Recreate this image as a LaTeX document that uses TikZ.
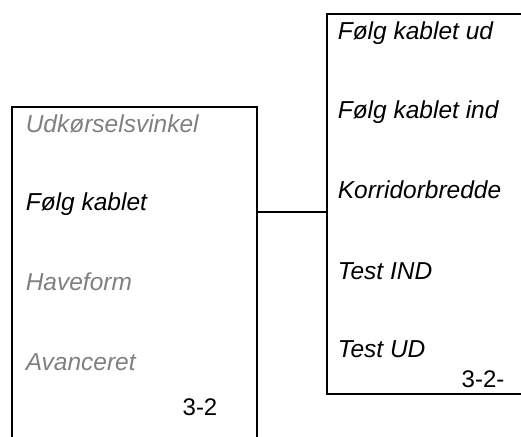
\documentclass[tikz,border=0pt]{standalone}
\usepackage{fontspec}
\setmainfont{Liberation Sans}
\usepackage{tikz}
\usetikzlibrary{positioning}
\tikzset{
  menu/.style={anchor=base west, inner sep=0pt, font=\itshape\fontsize{24.5}{29}\selectfont},
  menudim/.style={menu, text=black!50},
  pagenr/.style={anchor=base, inner sep=0pt, font=\fontsize{24}{29}\selectfont},
}

\begin{document}
\begin{tikzpicture}[x=1pt,y=-1pt,line width=1.6pt]
        \useasboundingbox (0,0) rectangle (521,436);
        % venstre menu
        \coordinate (LA) at (12,440);   \coordinate (LB) at (12,107);
        \coordinate (LC) at (257,107);  \coordinate (LD) at (257,440);
        \draw (LA)--(LB)--(LC)--(LD);
        \node[menudim] (udk) at (25,132) {Udkørselsvinkel};
        \node[menu]    (folg) at (25,210) {Følg kablet};
        \node[menudim] (have) at (25,290) {Haveform};
        \node[menudim] (avan) at (25,370) {Avanceret};
        \node[pagenr]  (nrA) at (200,415) {3-2};

        % hoejre menu
        \coordinate (RA) at (525,14);   \coordinate (RB) at (327,14);
        \coordinate (RC) at (327,394);  \coordinate (RD) at (525,394);
        \draw (RA)--(RB)--(RC)--(RD);
        \node[menu] (ud)   at (337,40)  {Følg kablet ud};
        \node[menu] (ind)  at (337,118) {Følg kablet ind};
        \node[menu] (korr) at (337,198) {Korridorbredde};
        \node[menu] (tind) at (337,279) {Test IND};
        \node[menu] (tud)  at (337,357) {Test UD};
        \node[pagenr] (nrB) at (483,387) {3-2-};

        % forbindelse
        \coordinate (FA) at (257,212);  \coordinate (FB) at (327,212);
        \draw (FA)--(FB);
\end{tikzpicture}
\end{document}
